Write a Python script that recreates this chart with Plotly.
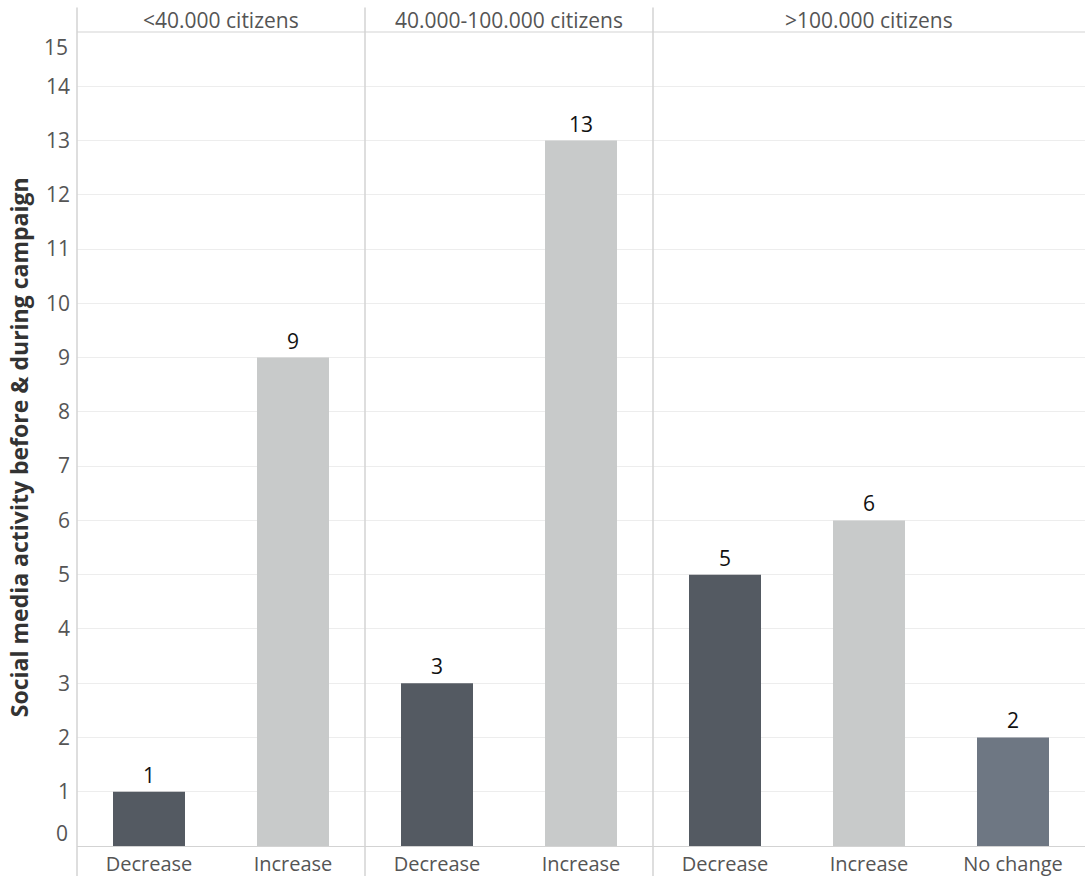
import plotly.graph_objects as go
from plotly.subplots import make_subplots

# Data per city-size group
groups = ["<40.000 citizens", "40.000-100.000 citizens", ">100.000 citizens"]
cats_small = ["Decrease", "Increase"]
vals_small = [1, 9]
cats_mid = ["Decrease", "Increase"]
vals_mid = [3, 13]
cats_large = ["Decrease", "Increase", "No change"]
vals_large = [5, 6, 2]

colors = {"Decrease": "#545A62", "Increase": "#C8CACA", "No change": "#6E7783"}
y_ticks = list(range(0, 16))

FONT = "Open Sans"
GRID = "#EDEDED"
LINE = "#D3D3D3"
TXT = "#555555"

fig = make_subplots(rows=1, cols=3, column_widths=[2, 2, 3],
                    horizontal_spacing=0, shared_yaxes=True)

for i, (cats, vals) in enumerate([(cats_small, vals_small),
                                  (cats_mid, vals_mid),
                                  (cats_large, vals_large)], start=1):
    fig.add_trace(go.Bar(
        x=cats, y=vals, width=0.5,
        marker=dict(color=[colors[c] for c in cats], line=dict(width=0)),
        text=[str(v) for v in vals], textposition="outside",
        textfont=dict(family=FONT, size=21, color="#111111"),
        cliponaxis=False, showlegend=False,
    ), row=1, col=i)
    fig.update_xaxes(row=1, col=i, type="category", range=[-0.5, len(cats) - 0.5],
                     showgrid=False, showline=True, linecolor=LINE, linewidth=1,
                     ticks="", ticklabelstandoff=0, automargin=False,
                     tickfont=dict(family=FONT, size=20, color=TXT),
                     fixedrange=True)

fig.update_yaxes(range=[0, 15], tickvals=y_ticks[1:-1], showgrid=True,
                 gridcolor=GRID, gridwidth=1, zeroline=False, showline=False,
                 ticks="", automargin=False, ticklabelstandoff=6,
                 tickfont=dict(family=FONT, size=21, color=TXT))

annotations = []
# Top and bottom tick labels nudged inside the plot band
for v, shift in [(0, 13), (15, -15)]:
    annotations.append(dict(xref="paper", yref="y", x=0, y=v, xanchor="right",
                            yanchor="middle", xshift=-7, yshift=shift, text=str(v),
                            showarrow=False,
                            font=dict(family=FONT, size=21, color=TXT)))

# Group headers
domains = [fig.layout.xaxis.domain, fig.layout.xaxis2.domain, fig.layout.xaxis3.domain]
for g, d in zip(groups, domains):
    annotations.append(dict(xref="paper", yref="paper", x=(d[0] + d[1]) / 2, y=1,
                            xanchor="center", yanchor="middle", yshift=12,
                            text=g.replace("<", "&lt;").replace(">", "&gt;"),
                            showarrow=False,
                            font=dict(family=FONT, size=21, color=TXT)))

# Axis title
annotations.append(dict(xref="paper", yref="paper", x=-0.0575, y=0.49,
                        xanchor="center", yanchor="middle",
                        text="<b>Social media activity before &amp; during campaign</b>",
                        textangle=-90, showarrow=False,
                        font=dict(family=FONT, size=23, color="#333333")))

shapes = []
# Panel separators
for d in domains:
    shapes.append(dict(type="line", xref="paper", yref="paper", x0=d[0], x1=d[0],
                       y0=-0.04, y1=1.03, line=dict(color=LINE, width=1.5)))
# Header divider
shapes.append(dict(type="line", xref="paper", yref="paper", x0=0, x1=1,
                   y0=1, y1=1, line=dict(color=LINE, width=1)))

fig.update_layout(
    width=1085, height=876,
    margin=dict(l=77, r=0, t=32, b=30),
    plot_bgcolor="white", paper_bgcolor="white",
    annotations=annotations, shapes=shapes,
    bargap=0.5,
)

fig.write_html("out.html")
